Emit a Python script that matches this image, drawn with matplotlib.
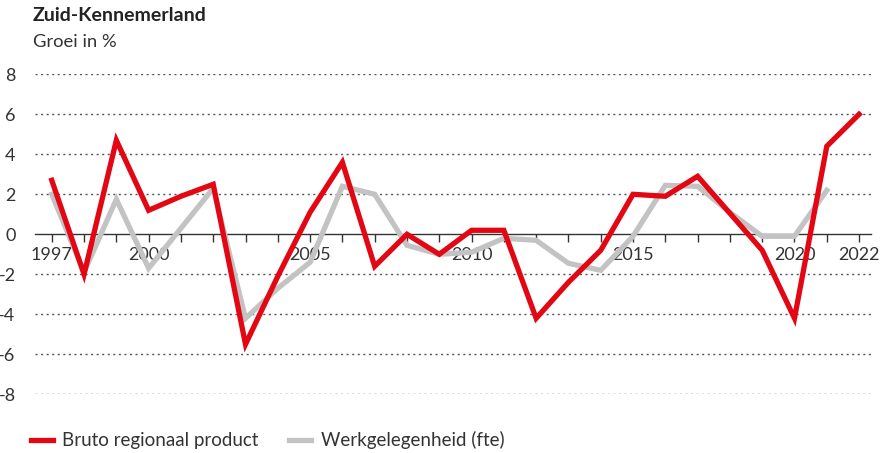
import matplotlib
matplotlib.use("Agg")
import matplotlib.pyplot as plt
from matplotlib.ticker import FixedLocator, FuncFormatter

plt.rcParams['font.family'] = ['Lato', 'DejaVu Sans']

years = list(range(1997, 2023))
brp = [2.7, -2.0, 4.7, 1.2, 1.9, 2.5, -5.5, -2.1, 1.1, 3.6, -1.6, 0.0, -1.0, 0.2,
       0.2, -4.2, -2.4, -0.8, 2.0, 1.9, 2.9, 1.05, -0.8, -4.2, 4.4, 6.0]
emp_years = list(range(1997, 2022))
emp = [2.0, -1.9, 1.75, -1.7, 0.3, 2.3, -4.2, -2.7, -1.4, 2.4, 2.0, -0.55, -1.0,
       -0.9, -0.2, -0.3, -1.45, -1.8, -0.1, 2.45, 2.4, 1.1, -0.1, -0.1, 2.2]
label_years = [1997, 2000, 2005, 2010, 2015, 2020, 2022]
y_ticks = [-8, -6, -4, -2, 0, 2, 4, 6, 8]

RED = '#e30613'
GREY = '#c3c3c3'
TXT = '#333333'

fig = plt.figure(figsize=(8.85, 4.53), dpi=100)
ax = fig.add_axes([0.0395, 0.1296, 0.9447, 0.7064])

ax.plot(emp_years, emp, color=GREY, lw=3.8, solid_joinstyle='miter', label='Werkgelegenheid (fte)', zorder=2)
ax.plot(years, brp, color=RED, lw=3.8, solid_joinstyle='miter', label='Bruto regionaal product', zorder=3)

ax.set_xlim(1996.48, 2022.37)
ax.set_ylim(-8, 8)

for yv in y_ticks:
    if yv != 0:
        ax.axhline(yv, color='#555555', lw=1.0, ls=(0, (1.5, 2.5)), zorder=1)

for s in ['top', 'right', 'left']:
    ax.spines[s].set_visible(False)
ax.spines['bottom'].set_position(('data', 0))
ax.spines['bottom'].set_color(TXT)
ax.spines['bottom'].set_linewidth(1.0)
ax.spines['bottom'].set_zorder(1.5)

ax.xaxis.set_major_locator(FixedLocator(label_years))
ax.xaxis.set_minor_locator(FixedLocator(years))
ax.tick_params(axis='x', which='both', direction='out', length=6, width=1.0, color=TXT,
               labelsize=13, labelcolor=TXT, pad=3)
ax.set_yticks(y_ticks)
ax.yaxis.set_major_formatter(FuncFormatter(lambda v, p: f"{int(v)}"))
ax.tick_params(axis='y', length=0, pad=14, labelsize=13, labelcolor=TXT)

fig.text(0.037, 0.965, 'Zuid-Kennemerland', fontsize=14, fontweight='bold', color='#222222', va='center')
fig.text(0.037, 0.907, 'Groei in %', fontsize=13.2, color=TXT, va='center')

h, l = ax.get_legend_handles_labels()
leg = fig.legend(h[::-1], l[::-1], loc='center left', bbox_to_anchor=(0.0155, 0.028), ncol=2,
                 frameon=False, fontsize=13.5, handlelength=1.2, handletextpad=0.5,
                 columnspacing=1.6, labelcolor=TXT)

fig.savefig('out.png', dpi=100)
